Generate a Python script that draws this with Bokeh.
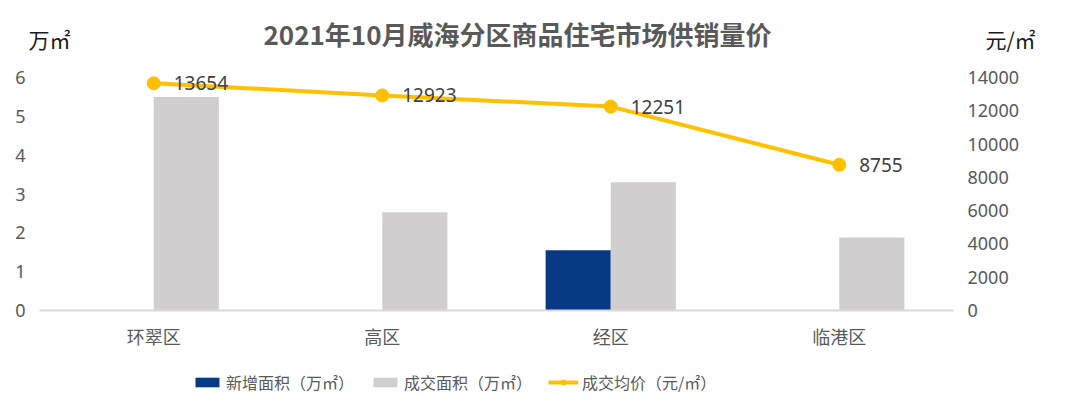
from bokeh.plotting import figure
from bokeh.models import (Range1d, LinearAxis, FixedTicker, ColumnDataSource,
                          LabelSet, Label, Legend, LegendItem)
from bokeh.transform import dodge
from bokeh.core.properties import value
from bokeh.embed import file_html
from bokeh.resources import INLINE

categories = ["环翠区", "高区", "经区", "临港区"]
new_area = [0, 0, 1.55, 0]
deal_area = [5.5, 2.53, 3.3, 1.88]
avg_price = [13654, 12923, 12251, 8755]
left_ticks = [0, 1, 2, 3, 4, 5, 6]
right_ticks = [0, 2000, 4000, 6000, 8000, 10000, 12000, 14000]

title_text = "2021年10月威海分区商品住宅市场供销量价"
left_unit = "万㎡"
right_unit = "元/㎡"
series_names = ["新增面积（万㎡）", "成交面积（万㎡）", "成交均价（元/㎡）"]

CJK = "Noto Sans CJK SC"
NUM = "Noto Sans"
TXT = "#595959"

# ---- canvas layout (pixels) ----
W, H = 1051, 395
PL, PR = 39, 953          # plot area left / right
PB, PT = 310, 77          # y of value 0 / y of top tick
n = len(categories)
cat_px = (PR - PL) / n
unit_px = (PB - PT) / left_ticks[-1]

xpos = [i + 1 for i in range(n)]
x_start = 0.5 - PL / cat_px
x_end = x_start + W / cat_px
y_start = -(H - PB) / unit_px
y_end = left_ticks[-1] + PT / unit_px
ratio = right_ticks[-1] / left_ticks[-1]

src = ColumnDataSource(dict(x=xpos, cat=categories, new=new_area, deal=deal_area,
                            price=avg_price, plabel=[str(v) for v in avg_price]))

p = figure(width=W, height=H, x_range=Range1d(x_start, x_end), y_range=Range1d(y_start, y_end),
           output_backend="svg", toolbar_location=None, x_axis_location=None, y_axis_location=None,
           min_border_left=0, min_border_right=0, min_border_top=0, min_border_bottom=0)
p.extra_y_ranges = {"price": Range1d(y_start * ratio, y_end * ratio)}
p.outline_line_color = None
p.grid.visible = False

# left axis
la = LinearAxis(ticker=FixedTicker(ticks=left_ticks), fixed_location=0.5)
la.axis_line_color = None
la.major_tick_line_color = None
la.major_tick_out = 0
la.minor_tick_line_color = None
la.major_label_standoff = 14
la.major_label_text_font = NUM
la.major_label_text_font_size = "18px"
la.major_label_text_color = TXT
p.add_layout(la, "left")

# right axis
ra = LinearAxis(y_range_name="price", ticker=FixedTicker(ticks=right_ticks), fixed_location=n + 0.5)
ra.axis_line_color = None
ra.major_tick_line_color = None
ra.major_tick_out = 0
ra.minor_tick_line_color = None
ra.major_label_standoff = 14
ra.major_label_text_font = NUM
ra.major_label_text_font_size = "18px"
ra.major_label_text_color = TXT
p.add_layout(ra, "right")

# category axis
xa = LinearAxis(ticker=FixedTicker(ticks=xpos), fixed_location=0, bounds=(0.5, n + 0.5),
                major_label_overrides={x: c for x, c in zip(xpos, categories)})
xa.axis_line_color = "#D9D9D9"
xa.axis_line_width = 2
xa.major_tick_line_color = None
xa.major_tick_out = 0
xa.minor_tick_line_color = None
xa.major_label_standoff = 12
xa.major_label_text_font = CJK
xa.major_label_text_font_size = "18px"
xa.major_label_text_color = TXT
p.add_layout(xa, "below")

# bars
b1 = p.vbar(x=dodge("x", -0.1425), top="new", width=0.285, source=src,
            fill_color="#083A84", line_color=None)
b2 = p.vbar(x=dodge("x", 0.1425), top="deal", width=0.285, source=src,
            fill_color="#D0CECE", line_color=None)

# price line
l1 = p.line(x="x", y="price", source=src, y_range_name="price", line_color="#FFC000", line_width=4)
c1 = p.scatter(x="x", y="price", source=src, y_range_name="price", size=13,
               fill_color="#FFC000", line_color="#FFC000")

p.add_layout(LabelSet(x="x", y="price", text="plabel", source=src, y_range_name="price",
                      x_offset=20, text_baseline="middle", text_align="left",
                      text_font=value(NUM), text_font_size="19px", text_color="#404040"))

# title and units (screen units, origin bottom-left of canvas)
p.add_layout(Label(x=517, y=H - 33, x_units="screen", y_units="screen", text=title_text,
                   text_align="center", text_baseline="middle", text_font=CJK,
                   text_font_size="26px", text_font_style="bold", text_color=TXT))
p.add_layout(Label(x=49, y=H - 38, x_units="screen", y_units="screen", text=left_unit,
                   text_align="center", text_baseline="middle", text_font=CJK,
                   text_font_size="21px", text_color="#1a1a1a"))
p.add_layout(Label(x=1010, y=H - 38, x_units="screen", y_units="screen", text=right_unit,
                   text_align="center", text_baseline="middle", text_font=CJK,
                   text_font_size="21px", text_color="#1a1a1a"))

legend = Legend(items=[LegendItem(label=series_names[0], renderers=[b1]),
                       LegendItem(label=series_names[1], renderers=[b2]),
                       LegendItem(label=series_names[2], renderers=[l1, c1])],
                location=(192, 1), orientation="horizontal",
                glyph_width=30, glyph_height=12, label_standoff=4, spacing=16,
                padding=0, margin=0, border_line_color=None, background_fill_alpha=0,
                label_text_font=CJK, label_text_font_size="16px", label_text_color=TXT,
                label_height=12)
p.add_layout(legend, "center")

open("out.html", "w").write(file_html(p, INLINE))
